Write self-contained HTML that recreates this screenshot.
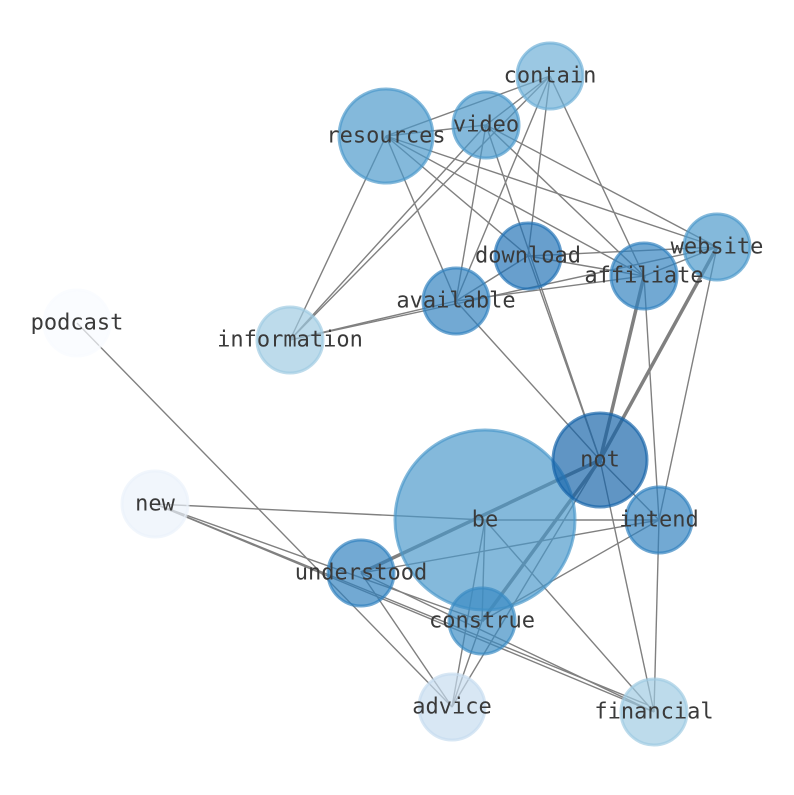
<!DOCTYPE html>
<html><head><meta charset="utf-8"><style>html,body{margin:0;background:#fff}</style></head><body>
<svg width="794" height="790" xmlns="http://www.w3.org/2000/svg">
<g stroke="#808080" stroke-width="1.4" fill="none">
<line x1="550" y1="76" x2="386" y2="136"/><line x1="550" y1="76" x2="486" y2="125"/><line x1="550" y1="76" x2="290" y2="340"/><line x1="550" y1="76" x2="456" y2="301"/><line x1="550" y1="76" x2="528" y2="256"/><line x1="550" y1="76" x2="644" y2="276"/>
<line x1="486" y1="125" x2="386" y2="136"/><line x1="486" y1="125" x2="290" y2="340"/><line x1="486" y1="125" x2="456" y2="301"/><line x1="486" y1="125" x2="600" y2="460"/><line x1="486" y1="125" x2="644" y2="276"/><line x1="486" y1="125" x2="717" y2="247"/>
<line x1="386" y1="136" x2="290" y2="340"/><line x1="386" y1="136" x2="456" y2="301"/><line x1="386" y1="136" x2="528" y2="256"/><line x1="386" y1="136" x2="644" y2="276"/><line x1="386" y1="136" x2="717" y2="247"/>
<line x1="528" y1="256" x2="456" y2="301"/><line x1="528" y1="256" x2="717" y2="247"/><line x1="528" y1="256" x2="644" y2="276"/><line x1="528" y1="256" x2="600" y2="460"/>
<line x1="644" y1="276" x2="456" y2="301"/><line x1="644" y1="276" x2="717" y2="247"/><line x1="644" y1="276" x2="659" y2="520"/>
<line x1="717" y1="247" x2="290" y2="340"/><line x1="717" y1="247" x2="659" y2="520"/><line x1="456" y1="301" x2="290" y2="340"/><line x1="456" y1="301" x2="600" y2="460"/>
<line x1="77" y1="323" x2="452" y2="707"/>
<line x1="155" y1="504" x2="485" y2="520"/><line x1="155" y1="504" x2="654" y2="712"/><line x1="155" y1="504" x2="482" y2="621"/><line x1="155" y1="504" x2="648" y2="705"/>
<line x1="361" y1="573" x2="659" y2="520"/><line x1="361" y1="573" x2="654" y2="712"/><line x1="361" y1="573" x2="452" y2="707"/>
<line x1="485" y1="520" x2="659" y2="520"/><line x1="485" y1="520" x2="452" y2="707"/><line x1="485" y1="520" x2="482" y2="621"/><line x1="485" y1="520" x2="654" y2="712"/>
<line x1="600" y1="460" x2="452" y2="707"/><line x1="600" y1="460" x2="659" y2="520"/><line x1="600" y1="460" x2="654" y2="712"/><line x1="600" y1="460" x2="482" y2="621"/>
<line x1="659" y1="520" x2="482" y2="621"/><line x1="659" y1="520" x2="654" y2="712"/><line x1="482" y1="621" x2="452" y2="707"/>
</g>
<g stroke="#808080" stroke-width="3.5">
<line x1="600" y1="460" x2="361" y2="573"/><line x1="600" y1="460" x2="644" y2="276"/><line x1="600" y1="460" x2="717" y2="247"/><line x1="600" y1="460" x2="482" y2="621"/>
</g>
<g stroke-width="3" fill-opacity="0.68" stroke-opacity="0.68">
<circle cx="550" cy="76" r="33" fill="#6baed6" stroke="#6baed6"/>
<circle cx="386" cy="136" r="47" fill="#4a98ca" stroke="#4a98ca"/>
<circle cx="486" cy="125" r="33" fill="#4a98ca" stroke="#4a98ca"/>
<circle cx="717" cy="247" r="33" fill="#4a98ca" stroke="#4a98ca"/>
<circle cx="528" cy="256" r="33" fill="#2171b5" stroke="#2171b5"/>
<circle cx="644" cy="276" r="33" fill="#2f80be" stroke="#2f80be"/>
<circle cx="456" cy="301" r="33" fill="#2f80be" stroke="#2f80be"/>
<circle cx="290" cy="340" r="33" fill="#9ecae1" stroke="#9ecae1"/>
<circle cx="77" cy="323" r="33" fill="#f7fbff" stroke="#f7fbff"/>
<circle cx="485" cy="520" r="90" fill="#4a98ca" stroke="#4a98ca"/>
<circle cx="600" cy="460" r="47" fill="#1563a8" stroke="#1563a8"/>
<circle cx="659" cy="520" r="33" fill="#2f80be" stroke="#2f80be"/>
<circle cx="155" cy="504" r="33" fill="#eaf2fb" stroke="#eaf2fb"/>
<circle cx="361" cy="573" r="33" fill="#2f80be" stroke="#2f80be"/>
<circle cx="482" cy="621" r="33" fill="#3a8ac2" stroke="#3a8ac2"/>
<circle cx="452" cy="707" r="33" fill="#c6dbef" stroke="#c6dbef"/>
<circle cx="654" cy="712" r="33" fill="#9ecae1" stroke="#9ecae1"/>
</g>
<g font-family="DejaVu Sans Mono, Liberation Mono, monospace" font-size="22" fill="#3a3a3a" text-anchor="middle" dominant-baseline="central">
<text x="550" y="76">contain</text><text x="386" y="136">resources</text><text x="486" y="125">video</text>
<text x="717" y="247">website</text><text x="528" y="256">download</text><text x="644" y="276">affiliate</text>
<text x="456" y="301">available</text><text x="290" y="340">information</text><text x="77" y="323">podcast</text>
<text x="485" y="520">be</text><text x="600" y="460">not</text><text x="659" y="520">intend</text><text x="155" y="504">new</text>
<text x="361" y="573">understood</text><text x="482" y="621">construe</text><text x="452" y="707">advice</text><text x="654" y="712">financial</text>
</g>
</svg>
</body></html>
